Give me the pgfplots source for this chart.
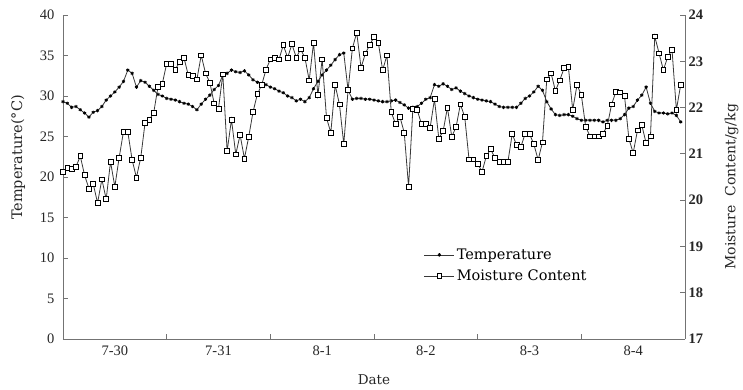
\documentclass[border=0pt]{standalone}
\usepackage{fontspec}
\setmainfont{Liberation Serif}
\newfontfamily\labelfont{DejaVu Serif}
\usepackage{pgfplots}
\usepackage{pgfplotstable}
\pgfplotsset{compat=1.18}

% hourly readings, 7-30 00:00 to 8-4 23:00
\pgfplotstableread{
h T M
0 29.3 20.61
1 29.1 20.69
2 28.6 20.67
3 28.7 20.72
4 28.3 20.95
5 27.9 20.54
6 27.4 20.25
7 28.0 20.35
8 28.2 19.94
9 28.7 20.45
10 29.5 20.02
11 30.0 20.83
12 30.5 20.29
13 31.1 20.92
14 31.8 21.48
15 33.2 21.48
16 32.8 20.87
17 31.1 20.49
18 31.9 20.92
19 31.7 21.67
20 31.2 21.74
21 30.7 21.89
22 30.2 22.45
23 30.0 22.52
24 29.7 22.95
25 29.6 22.95
26 29.5 22.82
27 29.3 22.99
28 29.1 23.08
29 29.0 22.70
30 28.7 22.68
31 28.3 22.61
32 29.0 23.13
33 29.6 22.74
34 30.1 22.54
35 30.8 22.09
36 31.3 21.98
37 32.6 22.72
38 32.8 21.06
39 33.2 21.74
40 33.0 20.99
41 32.9 21.41
42 33.1 20.90
43 32.6 21.37
44 32.0 21.91
45 31.7 22.29
46 31.5 22.49
47 31.4 22.82
48 31.1 23.04
49 30.9 23.08
50 30.6 23.04
51 30.4 23.35
52 30.0 23.08
53 29.8 23.37
54 29.4 23.08
55 29.6 23.26
56 29.3 23.08
57 29.8 22.59
58 30.9 23.40
59 31.8 22.27
60 32.6 23.04
61 33.2 21.78
62 33.8 21.46
63 34.5 22.49
64 35.1 22.07
65 35.3 21.21
66 30.7 22.38
67 29.6 23.28
68 29.7 23.62
69 29.7 22.86
70 29.6 23.17
71 29.6 23.35
72 29.5 23.53
73 29.4 23.40
74 29.3 22.81
75 29.3 23.13
76 29.4 21.90
77 29.5 21.64
78 29.2 21.80
79 28.9 21.46
80 28.5 20.29
81 28.6 21.98
82 28.7 21.95
83 29.1 21.64
84 29.6 21.64
85 29.8 21.57
86 31.4 22.18
87 31.2 21.33
88 31.5 21.49
89 31.2 22.00
90 30.8 21.37
91 31.0 21.58
92 30.6 22.07
93 30.3 21.80
94 30.0 20.88
95 29.8 20.88
96 29.6 20.79
97 29.5 20.61
98 29.4 20.95
99 29.3 21.10
100 29.0 20.91
101 28.7 20.83
102 28.6 20.83
103 28.6 20.83
104 28.6 21.43
105 28.6 21.19
106 29.1 21.15
107 29.7 21.44
108 30.0 21.43
109 30.5 21.21
110 31.2 20.87
111 30.7 21.25
112 29.3 22.61
113 28.4 22.74
114 27.7 22.36
115 27.6 22.59
116 27.7 22.85
117 27.7 22.88
118 27.5 21.95
119 27.2 22.49
120 27.0 22.27
121 27.0 21.59
122 27.0 21.38
123 27.0 21.38
124 27.0 21.38
125 26.8 21.44
126 27.0 21.60
127 27.0 22.07
128 27.0 22.34
129 27.2 22.33
130 27.7 22.25
131 28.5 21.33
132 28.7 21.02
133 29.5 21.51
134 30.1 21.62
135 31.1 21.23
136 29.1 21.38
137 28.1 23.54
138 27.9 23.17
139 27.9 22.81
140 27.8 23.10
141 27.9 23.24
142 27.6 21.95
143 26.8 22.49
}\hourly

\definecolor{axisgray}{gray}{0.45}
\definecolor{seriesgray}{gray}{0.22}

\pgfplotsset{
  twinbase/.style={
    at={(0pt,0pt)}, anchor=south west,
    scale only axis, width=622pt, height=324pt,
    xmin=0, xmax=144,
    axis line style={axisgray, line width=0.8pt},
    tick style={axisgray, line width=0.8pt},
    tick align=inside, major tick length=5pt,
    /pgf/number format/assume math mode=true,
    tick label style={font=\fontsize{14.5}{16}\selectfont, black!85},
    clip=false,
  },
  tempstyle/.style={seriesgray, line width=0.8pt, mark=asterisk, mark size=1.7pt,
    mark options={black, line width=0.8pt}},
  moiststyle/.style={seriesgray, line width=0.8pt, mark=square*, mark size=2.4pt,
    mark options={draw=black, fill=white, line width=0.7pt}},
}

\begin{document}
\begin{tikzpicture}
% left axis: air temperature
\begin{axis}[
  twinbase,
  ymin=0, ymax=40, ytick={0,5,...,40},
  axis x line*=bottom, axis y line*=left,
  yticklabel style={xshift=-5pt},
  xtick={24,48,72,96,120}, xticklabels={},
  extra x ticks={12,36,60,84,108,132},
  extra x tick labels={7-30,7-31,8-1,8-2,8-3,8-4},
  extra x tick style={major tick length=0pt, tick label style={yshift=-3pt}},
  xlabel={Date},
  xlabel style={at={(axis description cs:0.5,-0.127)}, anchor=center,
    font=\labelfont\fontsize{13.5}{15}\selectfont, black!85},
  ylabel={Temperature(°C)},
  ylabel style={at={(axis description cs:-0.072,0.56)}, anchor=center,
    font=\labelfont\fontsize{14.5}{16}\selectfont, black!85},
]
\addplot[tempstyle] table[x=h, y=T] {\hourly};
\end{axis}
% right axis: moisture content
\begin{axis}[
  twinbase,
  ymin=17, ymax=24, ytick={17,...,24},
  axis y line*=right, axis x line=none,
  yticklabel style={font=\fontsize{14.5}{16}\selectfont\bfseries},
  ylabel={Moisture\ \ Content/g/kg},
  ylabel style={at={(axis description cs:1.075,0.47)}, anchor=center,
    font=\labelfont\fontsize{14}{16}\selectfont, black!85},
  legend style={at={(axis description cs:0.58,0.285)}, anchor=north west,
    draw=none, fill=none, font=\labelfont\fontsize{14.5}{16}\selectfont,
    row sep=5pt, inner sep=0pt, nodes={inner xsep=2pt}},
  legend cell align=left,
  legend image code/.code={
    \draw[mark repeat=2, mark phase=2, #1] plot coordinates {(0pt,0pt) (15pt,0pt) (30pt,0pt)};},
]
\addlegendimage{tempstyle}
\addlegendentry{Temperature}
\addplot[moiststyle] table[x=h, y=M] {\hourly};
\addlegendentry{Moisture Content}
\end{axis}
\pgfresetboundingbox
\path[use as bounding box] (-63pt,-50pt) rectangle (680pt,339pt);
\end{tikzpicture}
\end{document}
